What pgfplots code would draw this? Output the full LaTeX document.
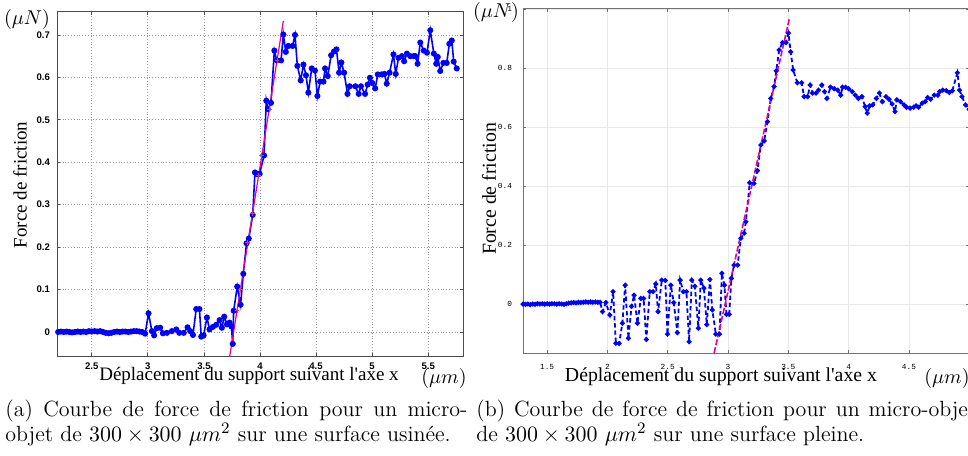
\documentclass[border=0pt]{standalone}
\usepackage{fontspec}
\usepackage{pgfplots}
\pgfplotsset{compat=1.18}
\newfontfamily\timesf{Liberation Serif}
\newfontfamily\arialf{Liberation Sans}
\newfontfamily\courf{Liberation Mono}

\begin{document}
\begin{tikzpicture}
\useasboundingbox (0,0) rectangle (484pt,227.5pt);
\clip (0,0) rectangle (484pt,227.5pt);

% (a) surface usinee
\begin{axis}[
  at={(28.5pt,49.5pt)}, anchor=south west,
  scale only axis, width=203pt, height=172pt,
  xmin=2.19, xmax=5.81, ymin=-0.0566, ymax=0.754,
  xtick={2.5,3,3.5,4,4.5,5,5.5},
  ytick={0,0.1,0.2,0.3,0.4,0.5,0.6,0.7},
  grid=major,
  major grid style={densely dotted, gray!80, line width=0.4pt},
  axis line style={black!70, line width=0.5pt},
  tick style={black!70, line width=0.4pt}, major tick length=1.5pt,
  ticklabel style={font=\arialf\bfseries\fontsize{4.8}{5}\selectfont},
  /pgf/number format/assume math mode=true,
]
\addplot[blue, line width=0.8pt, mark=*, mark size=1.1pt] coordinates {
(2.20,0.000)(2.225,0.001)(2.25,0.000)(2.275,0.001)(2.30,0.000)(2.325,-0.001)
(2.35,0.000)(2.375,0.001)(2.40,0.000)(2.425,0.001)(2.45,0.000)(2.475,0.002)
(2.50,0.001)(2.525,0.002)(2.55,0.001)(2.575,0.002)(2.60,0.000)(2.625,-0.002)
(2.65,-0.003)(2.675,-0.002)(2.70,0.000)(2.725,0.001)(2.75,0.000)(2.775,0.001)
(2.80,0.001)(2.825,0.000)(2.85,0.001)(2.875,0.002)(2.90,0.002)(2.925,0.001)
(2.95,0.000)(2.976,-0.004)(3.006,0.044)(3.036,0.002)(3.056,-0.008)(3.08,0.009)
(3.11,0.010)(3.134,-0.003)(3.17,-0.002)(3.214,0.002)(3.253,0.006)(3.28,-0.002)
(3.32,-0.002)(3.354,0.011)(3.378,0.002)(3.402,-0.007)(3.431,0.054)(3.46,0.054)
(3.476,-0.011)(3.497,-0.008)(3.527,0.034)(3.55,0.006)(3.58,0.012)(3.61,0.017)
(3.64,0.028)(3.66,0.010)(3.681,0.036)(3.705,0.018)(3.729,0.022)(3.745,0.013)
(3.757,-0.028)(3.765,0.050)(3.797,0.107)(3.827,0.064)(3.851,0.137)(3.88,0.209)
(3.90,0.220)(3.935,0.276)(3.955,0.376)(3.975,0.372)(3.997,0.373)(4.036,0.416)
(4.056,0.545)(4.07,0.525)(4.098,0.540)(4.128,0.663)(4.149,0.640)(4.188,0.640)
(4.208,0.701)(4.23,0.660)(4.253,0.674)(4.29,0.674)(4.312,0.700)(4.333,0.627)
(4.363,0.593)(4.387,0.630)(4.41,0.605)(4.431,0.564)(4.461,0.621)(4.49,0.616)
(4.512,0.556)(4.536,0.590)(4.566,0.590)(4.58,0.621)(4.604,0.603)(4.634,0.652)
(4.66,0.661)(4.682,0.666)(4.705,0.611)(4.725,0.635)(4.75,0.611)(4.78,0.561)
(4.80,0.579)(4.85,0.579)(4.88,0.561)(4.90,0.579)(4.937,0.561)(4.96,0.583)
(4.98,0.599)(5.00,0.587)(5.027,0.574)(5.05,0.607)(5.085,0.607)(5.11,0.608)
(5.13,0.585)(5.155,0.611)(5.19,0.654)(5.21,0.608)(5.235,0.646)(5.265,0.650)
(5.285,0.638)(5.31,0.656)(5.34,0.650)(5.37,0.650)(5.385,0.650)(5.405,0.632)
(5.429,0.682)(5.46,0.663)(5.489,0.658)(5.518,0.711)(5.55,0.656)(5.571,0.632)
(5.585,0.648)(5.607,0.615)(5.635,0.634)(5.665,0.634)(5.688,0.679)(5.71,0.687)
(5.727,0.637)(5.754,0.621)
};
\addplot[magenta, line width=0.6pt] coordinates {(3.73,-0.057)(4.208,0.733)};
\addplot[red!80, only marks, mark=+, mark size=1.2pt] coordinates {
(3.795,0.050)(3.825,0.100)(3.892,0.210)(3.934,0.280)(3.988,0.370)(4.016,0.415)
(4.082,0.525)(4.152,0.640)
};
\end{axis}

% (b) surface pleine
\begin{axis}[
  at={(261.5pt,51pt)}, anchor=south west,
  scale only axis, width=223.1pt, height=172pt,
  xmin=1.3, xmax=5, ymin=-0.166, ymax=1,
  xtick={1.5,2,2.5,3,3.5,4,4.5},
  ytick={0,0.2,0.4,0.6,0.8,1},
  grid=major,
  major grid style={gray!18, line width=0.4pt},
  axis line style={black!55, line width=0.5pt},
  tick style={black!55, line width=0.4pt}, major tick length=1.5pt,
  ticklabel style={font=\courf\fontsize{3.9}{4.5}\selectfont},
  xticklabel shift=2pt, yticklabel shift=2pt,
  /pgf/number format/assume math mode=true,
]
\addplot[blue, line width=0.9pt, dash pattern=on 2.2pt off 1.4pt,
  mark=*, mark size=0.75pt, mark options={solid}] coordinates {
(1.30,0.000)(1.32,-0.001)(1.34,0.000)(1.36,-0.002)(1.38,0.000)(1.40,-0.001)
(1.42,0.001)(1.44,0.000)(1.46,0.001)(1.48,0.000)(1.50,0.001)(1.52,0.000)
(1.54,0.001)(1.56,0.001)(1.58,0.000)(1.60,0.001)(1.62,0.000)(1.64,-0.001)
(1.66,0.001)(1.68,0.003)(1.70,0.004)(1.72,0.005)(1.74,0.004)(1.76,0.006)
(1.78,0.005)(1.80,0.006)(1.82,0.007)(1.84,0.006)(1.86,0.007)(1.88,0.006)
(1.90,0.007)(1.92,0.006)(1.94,0.006)(1.959,-0.026)(1.987,0.005)(2.02,-0.037)
(2.047,0.042)(2.07,-0.133)(2.097,-0.134)(2.124,-0.065)(2.147,0.064)(2.174,-0.116)
(2.20,-0.008)(2.221,0.030)(2.249,-0.065)(2.277,0.019)(2.30,0.019)(2.323,-0.120)
(2.351,0.042)(2.378,0.042)(2.401,0.068)(2.42,-0.026)(2.451,0.081)(2.48,0.080)
(2.498,-0.102)(2.526,0.064)(2.55,0.005)(2.58,-0.097)(2.603,0.081)(2.63,0.042)
(2.655,0.042)(2.677,-0.128)(2.70,0.081)(2.725,0.060)(2.754,-0.082)(2.774,0.081)
(2.80,0.054)(2.824,-0.070)(2.85,0.083)(2.87,-0.020)(2.899,-0.102)(2.93,-0.102)
(2.949,0.104)(2.97,0.064)(2.987,-0.035)(3.01,-0.035)(3.028,0.087)(3.05,0.132)
(3.08,0.132)(3.106,0.223)(3.133,0.240)(3.148,0.279)(3.18,0.411)(3.216,0.409)
(3.244,0.452)(3.272,0.539)(3.30,0.553)(3.327,0.618)(3.355,0.697)(3.382,0.737)
(3.40,0.790)(3.424,0.861)(3.451,0.886)(3.48,0.886)(3.501,0.918)(3.52,0.855)
(3.54,0.793)(3.575,0.750)(3.61,0.750)(3.631,0.703)(3.66,0.703)(3.681,0.742)
(3.70,0.715)(3.73,0.715)(3.75,0.725)(3.778,0.742)(3.80,0.720)(3.82,0.697)
(3.85,0.735)(3.88,0.730)(3.91,0.725)(3.934,0.708)(3.95,0.735)(3.975,0.735)
(4.00,0.730)(4.03,0.720)(4.055,0.708)(4.081,0.697)(4.11,0.703)(4.137,0.669)
(4.155,0.647)(4.175,0.672)(4.20,0.675)(4.23,0.697)(4.255,0.715)(4.28,0.686)
(4.31,0.703)(4.335,0.694)(4.36,0.678)(4.385,0.652)(4.40,0.692)(4.43,0.686)
(4.46,0.675)(4.48,0.667)(4.51,0.664)(4.54,0.667)(4.56,0.672)(4.58,0.667)
(4.61,0.681)(4.635,0.686)(4.655,0.700)(4.68,0.694)(4.71,0.708)(4.74,0.708)
(4.755,0.720)(4.78,0.725)(4.81,0.723)(4.835,0.717)(4.86,0.723)(4.902,0.784)
(4.92,0.725)(4.94,0.703)(4.97,0.675)(5.00,0.660)
};
\addplot[magenta, line width=0.8pt, dash pattern=on 3pt off 1pt] coordinates {(2.885,-0.166)(3.51,0.97)};
\end{axis}

% axis labels
\node[font=\timesf\fontsize{9.5}{11}\selectfont, rotate=90] at (10pt,135pt) {Force de friction};
\node[font=\timesf\fontsize{9.5}{11}\selectfont] at (124.5pt,39.5pt) {Déplacement du support suivant l\textquotesingle axe x};
\node at (13.5pt,217.5pt) {$(\mu N)$};
\node at (222pt,38.5pt) {$(\mu m)$};
\node[font=\timesf\fontsize{9.9}{11}\selectfont, rotate=90] at (244.5pt,133pt) {Force de friction};
\node[font=\timesf\fontsize{9.9}{11}\selectfont] at (360.5pt,39pt) {Déplacement du support suivant l\textquotesingle axe x};
\node at (248pt,221pt) {$(\mu N)$};
\node at (473.5pt,38.5pt) {$(\mu m)$};

% captions
\begin{scope}[every node/.style={anchor=base west, inner sep=0pt, font=\fontsize{11}{12.5}\selectfont}]
\node at (2.5pt,19.5pt) {\makebox[231pt][s]{(a) Courbe de force de friction pour un micro-}};
\node at (2.5pt,7pt) {objet de $300\times300$ $\mu m^2$ sur une surface usinée.};
\node at (238pt,19.5pt) {\makebox[250pt][s]{(b) Courbe de force de friction pour un micro-objet}};
\node at (238pt,7pt) {de $300\times300$ $\mu m^2$ sur une surface pleine.};
\end{scope}
\end{tikzpicture}
\end{document}
